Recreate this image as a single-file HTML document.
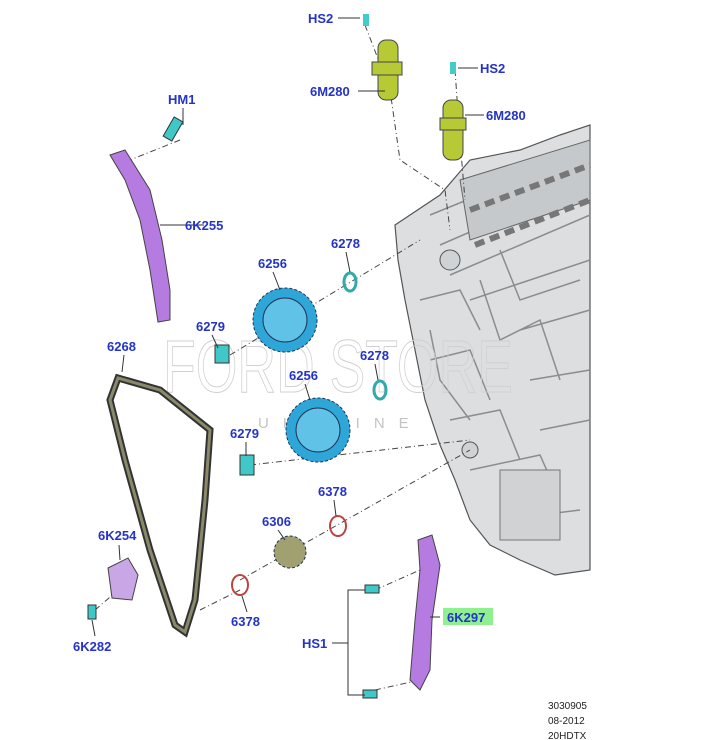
<!DOCTYPE html>
<html><head><meta charset="utf-8"><style>
html,body{margin:0;padding:0;background:#fff;}
svg{display:block}
.l{font-family:"Liberation Sans",Arial,sans-serif;font-weight:bold;font-size:13px;fill:#2433c8;}
.s{font-family:"Liberation Sans",Arial,sans-serif;font-size:10px;fill:#222;}
.d{stroke:#444;stroke-width:1;stroke-dasharray:6 3 1 3;fill:none}
.k{stroke:#333;stroke-width:1;fill:none}
</style></head><body>
<svg width="717" height="740" viewBox="0 0 717 740" xmlns="http://www.w3.org/2000/svg">
<!-- engine block -->
<path d="M395,225 L440,195 L470,160 L520,150 L560,135 L590,125 L590,570 L555,575 L520,560 L490,545 L470,520 L455,480 L440,445 L425,400 L415,350 L405,300 L398,260 Z" fill="#dcdee0" stroke="#555" stroke-width="1.2"/>
<path d="M430,215 L590,150 M440,245 L590,180 M450,275 L590,215 M470,300 L590,260 M420,300 L460,290 L480,330 M430,360 L470,350 L490,400 M450,420 L500,410 L520,460 M470,470 L540,455 L560,500 M500,520 L580,510 M520,330 L590,310 M530,380 L590,370 M540,430 L590,420 M480,280 L500,340 L540,320 L560,380 M430,330 L440,380 L470,420 M500,250 L520,300 L580,280" stroke="#8a8c8e" stroke-width="1.5" fill="none"/>
<path d="M460,180 L590,140 L590,200 L470,240 Z" fill="#c6c9cc" stroke="#666"/>
<path d="M470,210 L590,165" stroke="#777" stroke-width="6" stroke-dasharray="10 6"/>
<path d="M475,245 L590,200" stroke="#777" stroke-width="6" stroke-dasharray="10 6"/>
<circle cx="450" cy="260" r="10" fill="#d0d3d6" stroke="#555"/>
<circle cx="470" cy="450" r="8" fill="#d0d3d6" stroke="#555"/>
<rect x="500" y="470" width="60" height="70" fill="#d0d2d4" stroke="#777"/>
<!-- watermark -->
<text x="163" y="392" font-family="Liberation Sans,sans-serif" font-size="74" fill="none" stroke="#d0d0d0" stroke-width="1" textLength="350" lengthAdjust="spacingAndGlyphs">FORD STORE</text>
<text x="258" y="428" font-family="Liberation Sans,sans-serif" font-size="15" fill="#c4c4c4" letter-spacing="14">UKRAINE</text>
<!-- dashed leader lines -->
<path class="d" d="M365,25 L390,90 L400,160 L445,190 L450,230"/>
<path class="d" d="M455,70 L460,140 L465,200"/>
<path class="d" d="M180,140 L130,160"/>
<path class="d" d="M230,355 L420,240"/>
<path class="d" d="M250,465 L470,440"/>
<path class="d" d="M240,580 L470,450"/>
<path class="d" d="M200,610 L240,590"/>
<path class="d" d="M95,610 L130,580"/>
<path class="d" d="M375,590 L420,570 M375,690 L420,680"/>
<!-- solenoids -->
<g fill="#b7c934" stroke="#445" stroke-width="1">
<rect x="378" y="40" width="20" height="60" rx="8"/>
<rect x="443" y="100" width="20" height="60" rx="8"/>
<path d="M372,62 L402,62 L402,75 L372,75 Z"/>
<path d="M440,118 L466,118 L466,130 L440,130 Z"/>
</g>
<rect x="363" y="14" width="6" height="12" fill="#4cc"/>
<rect x="450" y="62" width="6" height="12" fill="#4cc"/>
<!-- guide 6K255 -->
<path d="M110,155 L125,150 L150,190 L162,240 L170,290 L170,320 L158,322 L150,270 L140,220 L125,180 Z" fill="#b57be0" stroke="#444"/>
<rect x="168" y="118" width="10" height="22" fill="#40c8c8" stroke="#333" transform="rotate(30 173 129)"/>
<!-- sprockets -->
<g stroke="#235" stroke-width="1">
<circle cx="285" cy="320" r="32" fill="#2ea7d8" stroke-dasharray="3 2"/>
<circle cx="285" cy="320" r="22" fill="#5fc2e6"/>
<circle cx="318" cy="430" r="32" fill="#2ea7d8" stroke-dasharray="3 2"/>
<circle cx="318" cy="430" r="22" fill="#5fc2e6"/>
<circle cx="290" cy="552" r="16" fill="#a0a070" stroke-dasharray="3 2"/>
</g>
<rect x="215" y="345" width="14" height="18" fill="#40c8c8" stroke="#333"/>
<rect x="240" y="455" width="14" height="20" fill="#40c8c8" stroke="#333"/>
<ellipse cx="350" cy="282" rx="6" ry="9" fill="none" stroke="#3aa" stroke-width="3"/>
<ellipse cx="380" cy="390" rx="6" ry="9" fill="none" stroke="#3aa" stroke-width="3"/>
<ellipse cx="338" cy="526" rx="8" ry="10" fill="none" stroke="#b44" stroke-width="2"/>
<ellipse cx="240" cy="585" rx="8" ry="10" fill="none" stroke="#b44" stroke-width="2"/>
<!-- chain -->
<path d="M118,378 L160,390 L210,430 L205,500 L195,600 L185,632 L175,625 L150,550 L125,460 L110,400 Z" fill="none" stroke="#333" stroke-width="7"/>
<path d="M118,378 L160,390 L210,430 L205,500 L195,600 L185,632 L175,625 L150,550 L125,460 L110,400 Z" fill="none" stroke="#8a8a6a" stroke-width="3"/>
<!-- tensioner 6K254 -->
<path d="M108,568 L128,558 L138,575 L132,600 L112,598 Z" fill="#c9a6e6" stroke="#444"/>
<rect x="88" y="605" width="8" height="14" fill="#40c8c8" stroke="#333"/>
<!-- guide 6K297 -->
<path d="M418,540 L432,535 L440,565 L432,620 L430,670 L420,690 L410,680 L415,620 L420,570 Z" fill="#b57be0" stroke="#444"/>
<rect x="365" y="585" width="14" height="8" fill="#40c8c8" stroke="#333"/>
<rect x="363" y="690" width="14" height="8" fill="#40c8c8" stroke="#333"/>
<path class="k" d="M365,590 L348,590 L348,695 L365,695 M332,643 L348,643"/>
<path class="k" d="M338,18 L360,18 M478,68 L458,68 M358,91 L385,91 M484,115 L465,115 M183,108 L183,125 M204,225 L160,225 M273,272 L280,290 M346,252 L350,272 M212,335 L218,348 M124,355 L122,372 M305,384 L310,400 M375,364 L378,380 M246,442 L246,456 M334,500 L336,516 M278,530 L285,540 M119,545 L120,560 M247,612 L242,596 M95,636 L92,620 M440,617 L430,617"/>
<!-- labels -->
<rect x="443" y="608" width="50" height="17" fill="#8ef08e"/>
<text class="l" x="308" y="23">HS2</text>
<text class="l" x="480" y="73">HS2</text>
<text class="l" x="310" y="96">6M280</text>
<text class="l" x="486" y="120">6M280</text>
<text class="l" x="168" y="104">HM1</text>
<text class="l" x="185" y="230">6K255</text>
<text class="l" x="258" y="268">6256</text>
<text class="l" x="331" y="248">6278</text>
<text class="l" x="196" y="331">6279</text>
<text class="l" x="360" y="360">6278</text>
<text class="l" x="107" y="351">6268</text>
<text class="l" x="289" y="380">6256</text>
<text class="l" x="230" y="438">6279</text>
<text class="l" x="318" y="496">6378</text>
<text class="l" x="262" y="526">6306</text>
<text class="l" x="98" y="540">6K254</text>
<text class="l" x="231" y="626">6378</text>
<text class="l" x="73" y="651">6K282</text>
<text class="l" x="302" y="648">HS1</text>
<text class="l" x="447" y="622">6K297</text>
<text class="s" x="548" y="709">3030905</text>
<text class="s" x="548" y="724">08-2012</text>
<text class="s" x="548" y="739">20HDTX</text>
</svg>
</body></html>
